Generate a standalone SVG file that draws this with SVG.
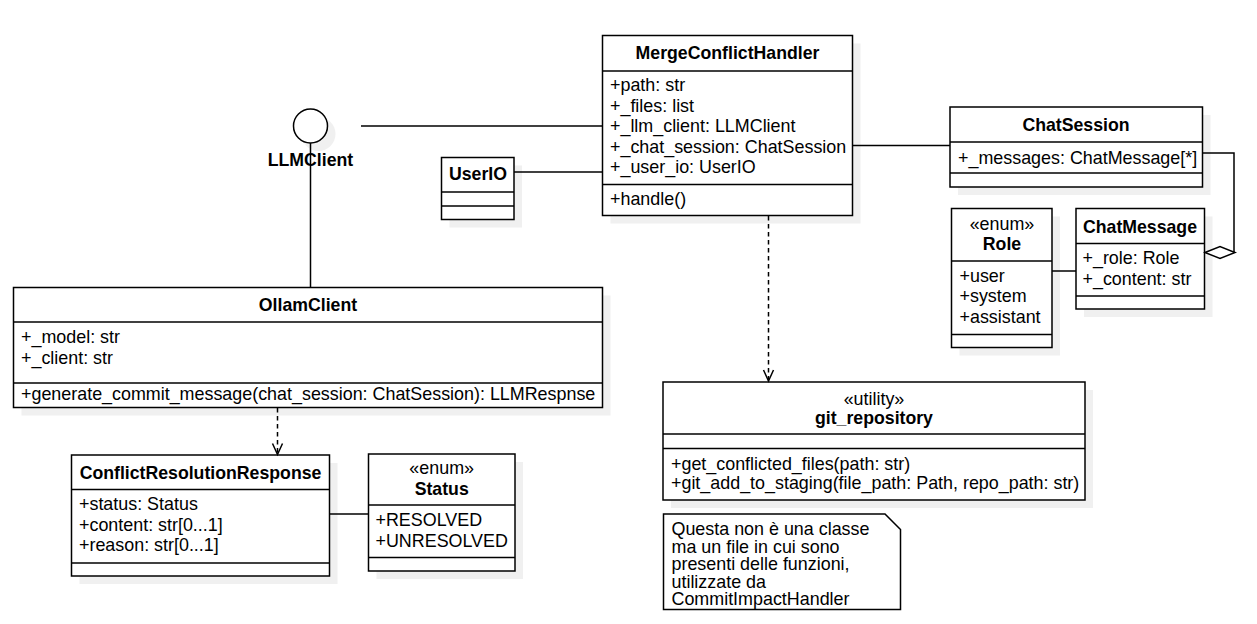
<svg xmlns="http://www.w3.org/2000/svg" width="1257" height="624" viewBox="0 0 1257 624">
  <defs>
    <style>
      .box{fill:#fff;stroke:#000;stroke-width:1.5}
      .sh{fill:#f0f0f0}
      .sep{stroke:#000;stroke-width:1.5}
      .t{font-family:"Liberation Sans",Arial,sans-serif;font-size:17.9px;fill:#000}
      .b{font-weight:bold;font-size:17.7px}
      .c{text-anchor:middle}
      .edge{fill:none;stroke:#000;stroke-width:1.5}
      .dash{stroke-dasharray:4.5 3.5}
    </style>
    <marker id="open" viewBox="-13 -7 16 14" markerWidth="16" markerHeight="14" refX="0" refY="0" orient="auto" markerUnits="userSpaceOnUse">
      <path d="M-11,-5 L0,0 L-11,5" fill="none" stroke="#000" stroke-width="1.5"/>
    </marker>
  </defs>
  <rect width="1257" height="624" fill="#fff"/>

  <!-- interface lollipop -->
  <g id="llmclient">
    <circle class="sh" cx="318.5" cy="134" r="17"/>
    <circle class="box" cx="310.5" cy="126" r="17"/>
    <text class="t b c" x="310.5" y="166">LLMClient</text>
  </g>

  <g id="userio">
    <rect class="sh" x="449.5" y="165.5" width="72.5" height="62"/>
    <rect class="box" x="441.5" y="157.5" width="72.5" height="62"/>
    <line class="sep" x1="441.5" y1="192" x2="514" y2="192"/>
    <line class="sep" x1="441.5" y1="206" x2="514" y2="206"/>
    <text class="t b c" x="478" y="180">UserIO</text>
  </g>

  <g id="mergeconflicthandler">
    <rect class="sh" x="610.5" y="43.5" width="250" height="180"/>
    <rect class="box" x="602.5" y="35.5" width="250" height="180"/>
    <line class="sep" x1="602.5" y1="71" x2="852.5" y2="71"/>
    <line class="sep" x1="602.5" y1="184.5" x2="852.5" y2="184.5"/>
    <text class="t b c" x="727.5" y="59">MergeConflictHandler</text>
    <text class="t" x="610" y="91">+path: str</text>
    <text class="t" x="610" y="111.5">+_files: list</text>
    <text class="t" x="610" y="132">+_llm_client: LLMClient</text>
    <text class="t" x="610" y="152.5">+_chat_session: ChatSession</text>
    <text class="t" x="610" y="173">+_user_io: UserIO</text>
    <text class="t" x="610" y="205">+handle()</text>
  </g>

  <g id="chatsession">
    <rect class="sh" x="958" y="115" width="252.5" height="80"/>
    <rect class="box" x="950" y="107" width="252.5" height="80"/>
    <line class="sep" x1="950" y1="142" x2="1202.5" y2="142"/>
    <line class="sep" x1="950" y1="173" x2="1202.5" y2="173"/>
    <text class="t b c" x="1076" y="131">ChatSession</text>
    <text class="t" x="958" y="164">+_messages: ChatMessage[*]</text>
  </g>

  <g id="role">
    <rect class="sh" x="959.5" y="216.5" width="100.5" height="139"/>
    <rect class="box" x="951.5" y="208.5" width="100.5" height="139"/>
    <line class="sep" x1="951.5" y1="261" x2="1052" y2="261"/>
    <line class="sep" x1="951.5" y1="334.5" x2="1052" y2="334.5"/>
    <text class="t c" x="1002" y="230">«enum»</text>
    <text class="t b c" x="1002" y="250">Role</text>
    <text class="t" x="959.5" y="281.7">+user</text>
    <text class="t" x="959.5" y="302.2">+system</text>
    <text class="t" x="959.5" y="322.7">+assistant</text>
  </g>

  <g id="chatmessage">
    <rect class="sh" x="1084" y="216.5" width="128.5" height="100.5"/>
    <rect class="box" x="1076" y="208.5" width="128.5" height="100.5"/>
    <line class="sep" x1="1076" y1="243.5" x2="1204.5" y2="243.5"/>
    <line class="sep" x1="1076" y1="296" x2="1204.5" y2="296"/>
    <text class="t b c" x="1140" y="232.7">ChatMessage</text>
    <text class="t" x="1082.5" y="264">+_role: Role</text>
    <text class="t" x="1082.5" y="284.5">+_content: str</text>
  </g>

  <g id="ollamclient">
    <rect class="sh" x="21.5" y="295.5" width="589" height="120"/>
    <rect class="box" x="13.5" y="287.5" width="589" height="120"/>
    <line class="sep" x1="13.5" y1="322" x2="602.5" y2="322"/>
    <line class="sep" x1="13.5" y1="383" x2="602.5" y2="383"/>
    <text class="t b c" x="308" y="311">OllamClient</text>
    <text class="t" x="21" y="343">+_model: str</text>
    <text class="t" x="21" y="363.5">+_client: str</text>
    <text class="t" x="21" y="400">+generate_commit_message(chat_session: ChatSession): LLMRespnse</text>
  </g>

  <g id="conflictresolutionresponse">
    <rect class="sh" x="79.5" y="463" width="258" height="121"/>
    <rect class="box" x="71.5" y="455" width="258" height="121"/>
    <line class="sep" x1="71.5" y1="489.5" x2="329.5" y2="489.5"/>
    <line class="sep" x1="71.5" y1="563" x2="329.5" y2="563"/>
    <text class="t b c" x="200.5" y="478.5">ConflictResolutionResponse</text>
    <text class="t" x="79" y="510">+status: Status</text>
    <text class="t" x="79" y="530.5">+content: str[0...1]</text>
    <text class="t" x="79" y="551">+reason: str[0...1]</text>
  </g>

  <g id="status">
    <rect class="sh" x="376.5" y="462" width="146.5" height="117"/>
    <rect class="box" x="368.5" y="454" width="146.5" height="117"/>
    <line class="sep" x1="368.5" y1="505" x2="515" y2="505"/>
    <line class="sep" x1="368.5" y1="557.5" x2="515" y2="557.5"/>
    <text class="t c" x="441.7" y="474">«enum»</text>
    <text class="t b c" x="441.7" y="495">Status</text>
    <text class="t" x="375.5" y="526">+RESOLVED</text>
    <text class="t" x="375.5" y="546.5">+UNRESOLVED</text>
  </g>

  <g id="git_repository">
    <rect class="sh" x="671" y="390" width="422" height="118"/>
    <rect class="box" x="663" y="382" width="422" height="118"/>
    <line class="sep" x1="663" y1="434" x2="1085" y2="434"/>
    <line class="sep" x1="663" y1="448.5" x2="1085" y2="448.5"/>
    <text class="t c" x="874" y="405">«utility»</text>
    <text class="t b c" x="874" y="423.5">git_repository</text>
    <text class="t" x="671" y="470">+get_conflicted_files(path: str)</text>
    <text class="t" x="671" y="488.5">+git_add_to_staging(file_path: Path, repo_path: str)</text>
  </g>

  <g id="note">
    <path class="box" d="M663.5,514 H885 L900.5,529.5 V609.5 H663.5 Z"/>
    <text class="t" x="671.5" y="535">Questa non è una classe</text>
    <text class="t" x="671.5" y="552.5">ma un file in cui sono</text>
    <text class="t" x="671.5" y="570">presenti delle funzioni,</text>
    <text class="t" x="671.5" y="587.5">utilizzate da</text>
    <text class="t" x="671.5" y="605">CommitImpactHandler</text>
  </g>

  <!-- connectors -->
  <g id="connectors">
    <line class="edge" x1="310.5" y1="143" x2="310.5" y2="287.5"/>
    <line class="edge" x1="361" y1="126" x2="602.5" y2="126"/>
    <line class="edge" x1="514" y1="172" x2="602.5" y2="172"/>
    <line class="edge" x1="852.5" y1="145.5" x2="950" y2="145.5"/>
    <line class="edge" x1="1052" y1="271" x2="1076" y2="271"/>
    <line class="edge" x1="329.5" y1="514" x2="368.5" y2="514"/>
    <path class="edge" d="M1202.5,153 H1234 V252.5"/>
    <path d="M1205,252.5 L1220,246.5 L1235,252.5 L1220,258.5 Z" fill="#fff" stroke="#000" stroke-width="1.5"/>
    <line class="edge dash" x1="768.5" y1="216" x2="768.5" y2="381" marker-end="url(#open)"/>
    <line class="edge dash" x1="277.5" y1="408" x2="277.5" y2="454.5" marker-end="url(#open)"/>
  </g>
</svg>
